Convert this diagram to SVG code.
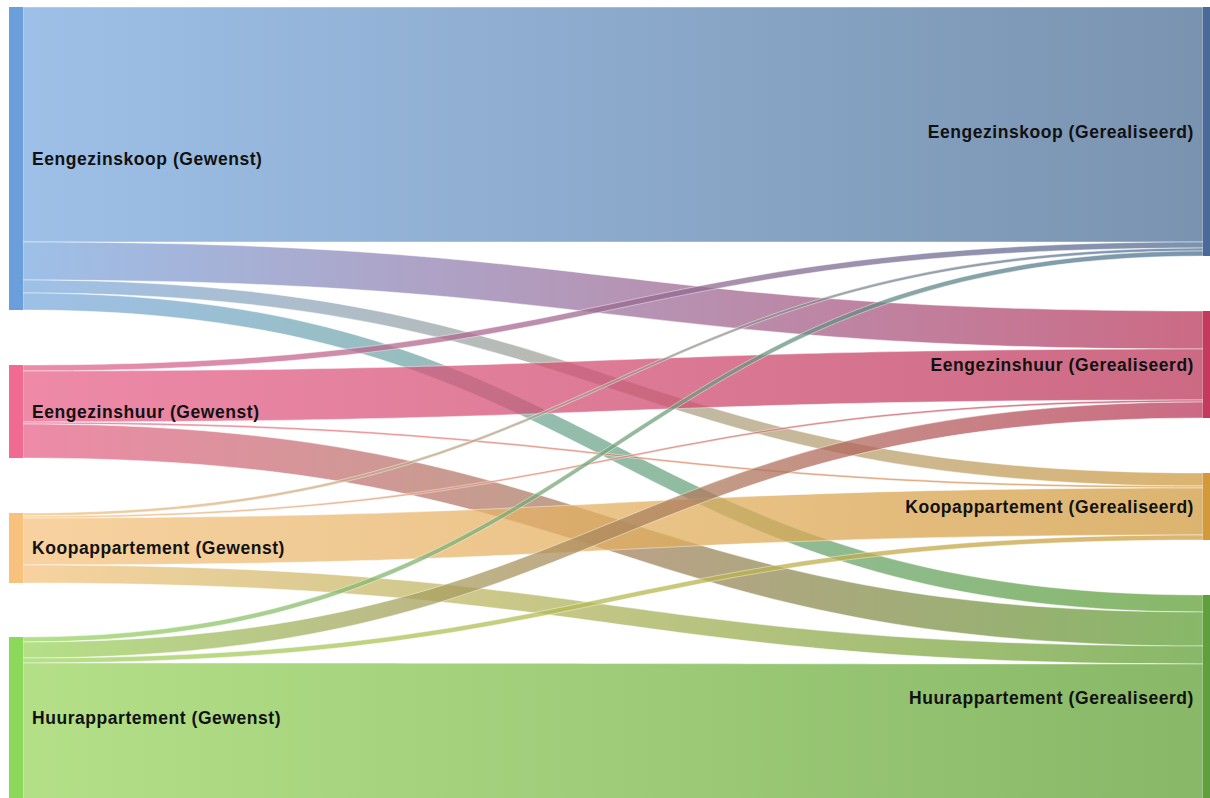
<svg xmlns="http://www.w3.org/2000/svg" width="1210" height="798" viewBox="0 0 1210 798">
<style>
.lnk{fill-opacity:0.75;stroke:#ffffff;stroke-opacity:0.55;stroke-width:0.8}
.lbl{font-family:"Liberation Sans",Arial,sans-serif;font-weight:bold;font-size:17.5px;letter-spacing:0.55px;fill:#111111}
.r{text-anchor:end}
</style>
<defs>
<linearGradient id="g-ek-ek" gradientUnits="userSpaceOnUse" x1="23" y1="0" x2="1203" y2="0"><stop offset="0" stop-color="#7dabe0"/><stop offset="1" stop-color="#4d6f95"/></linearGradient>
<linearGradient id="g-ek-eh" gradientUnits="userSpaceOnUse" x1="23" y1="0" x2="1203" y2="0"><stop offset="0" stop-color="#7dabe0"/><stop offset="1" stop-color="#bb385b"/></linearGradient>
<linearGradient id="g-ek-ka" gradientUnits="userSpaceOnUse" x1="23" y1="0" x2="1203" y2="0"><stop offset="0" stop-color="#7dabe0"/><stop offset="1" stop-color="#d09b40"/></linearGradient>
<linearGradient id="g-ek-ha" gradientUnits="userSpaceOnUse" x1="23" y1="0" x2="1203" y2="0"><stop offset="0" stop-color="#7dabe0"/><stop offset="1" stop-color="#60a035"/></linearGradient>
<linearGradient id="g-eh-ek" gradientUnits="userSpaceOnUse" x1="23" y1="0" x2="1203" y2="0"><stop offset="0" stop-color="#e8638b"/><stop offset="1" stop-color="#4d6f95"/></linearGradient>
<linearGradient id="g-eh-eh" gradientUnits="userSpaceOnUse" x1="23" y1="0" x2="1203" y2="0"><stop offset="0" stop-color="#e8638b"/><stop offset="1" stop-color="#bb385b"/></linearGradient>
<linearGradient id="g-eh-ka" gradientUnits="userSpaceOnUse" x1="23" y1="0" x2="1203" y2="0"><stop offset="0" stop-color="#e8638b"/><stop offset="1" stop-color="#d09b40"/></linearGradient>
<linearGradient id="g-eh-ha" gradientUnits="userSpaceOnUse" x1="23" y1="0" x2="1203" y2="0"><stop offset="0" stop-color="#e8638b"/><stop offset="1" stop-color="#60a035"/></linearGradient>
<linearGradient id="g-ka-ek" gradientUnits="userSpaceOnUse" x1="23" y1="0" x2="1203" y2="0"><stop offset="0" stop-color="#f5c380"/><stop offset="1" stop-color="#4d6f95"/></linearGradient>
<linearGradient id="g-ka-eh" gradientUnits="userSpaceOnUse" x1="23" y1="0" x2="1203" y2="0"><stop offset="0" stop-color="#f5c380"/><stop offset="1" stop-color="#bb385b"/></linearGradient>
<linearGradient id="g-ka-ka" gradientUnits="userSpaceOnUse" x1="23" y1="0" x2="1203" y2="0"><stop offset="0" stop-color="#f5c380"/><stop offset="1" stop-color="#d09b40"/></linearGradient>
<linearGradient id="g-ka-ha" gradientUnits="userSpaceOnUse" x1="23" y1="0" x2="1203" y2="0"><stop offset="0" stop-color="#f5c380"/><stop offset="1" stop-color="#60a035"/></linearGradient>
<linearGradient id="g-ha-ek" gradientUnits="userSpaceOnUse" x1="23" y1="0" x2="1203" y2="0"><stop offset="0" stop-color="#9bd560"/><stop offset="1" stop-color="#4d6f95"/></linearGradient>
<linearGradient id="g-ha-eh" gradientUnits="userSpaceOnUse" x1="23" y1="0" x2="1203" y2="0"><stop offset="0" stop-color="#9bd560"/><stop offset="1" stop-color="#bb385b"/></linearGradient>
<linearGradient id="g-ha-ka" gradientUnits="userSpaceOnUse" x1="23" y1="0" x2="1203" y2="0"><stop offset="0" stop-color="#9bd560"/><stop offset="1" stop-color="#d09b40"/></linearGradient>
<linearGradient id="g-ha-ha" gradientUnits="userSpaceOnUse" x1="23" y1="0" x2="1203" y2="0"><stop offset="0" stop-color="#9bd560"/><stop offset="1" stop-color="#60a035"/></linearGradient>
</defs>
<rect x="0" y="0" width="1210" height="798" fill="#ffffff"/>
<g id="links">
<path class="lnk" fill="url(#g-ek-ek)" d="M23,7 C613,7 613,7 1203,7 L1203,242 C613,242 613,242 23,242 Z"/>
<path class="lnk" fill="url(#g-ek-eh)" d="M23,242 C613,242 613,311 1203,311 L1203,349 C613,349 613,280 23,280 Z"/>
<path class="lnk" fill="url(#g-ek-ka)" d="M23,280 C613,280 613,473 1203,473 L1203,486 C613,486 613,293 23,293 Z"/>
<path class="lnk" fill="url(#g-ek-ha)" d="M23,293 C613,293 613,595 1203,595 L1203,612 C613,612 613,310 23,310 Z"/>
<path class="lnk" fill="url(#g-eh-ek)" d="M23,365 C613,365 613,242 1203,242 L1203,248 C613,248 613,371 23,371 Z"/>
<path class="lnk" fill="url(#g-eh-eh)" d="M23,371 C613,371 613,349 1203,349 L1203,400 C613,400 613,422 23,422 Z"/>
<path class="lnk" fill="url(#g-eh-ka)" d="M23,422 C613,422 613,486 1203,486 L1203,488 C613,488 613,424 23,424 Z"/>
<path class="lnk" fill="url(#g-eh-ha)" d="M23,424 C613,424 613,612 1203,612 L1203,646 C613,646 613,458 23,458 Z"/>
<path class="lnk" fill="url(#g-ka-ek)" d="M23,513 C613,513 613,248 1203,248 L1203,251 C613,251 613,516 23,516 Z"/>
<path class="lnk" fill="url(#g-ka-eh)" d="M23,516 C613,516 613,400 1203,400 L1203,402 C613,402 613,518 23,518 Z"/>
<path class="lnk" fill="url(#g-ka-ka)" d="M23,518 C613,518 613,488 1203,488 L1203,535 C613,535 613,565 23,565 Z"/>
<path class="lnk" fill="url(#g-ka-ha)" d="M23,565 C613,565 613,646 1203,646 L1203,664 C613,664 613,583 23,583 Z"/>
<path class="lnk" fill="url(#g-ha-ek)" d="M23,637 C613,637 613,251 1203,251 L1203,256 C613,256 613,642 23,642 Z"/>
<path class="lnk" fill="url(#g-ha-eh)" d="M23,642 C613,642 613,402 1203,402 L1203,418 C613,418 613,658 23,658 Z"/>
<path class="lnk" fill="url(#g-ha-ka)" d="M23,658 C613,658 613,535 1203,535 L1203,540 C613,540 613,663 23,663 Z"/>
<path class="lnk" fill="url(#g-ha-ha)" d="M23,663 C613,663 613,664 1203,664 L1203,800 C613,800 613,800 23,800 Z"/>
</g>
<g id="node-ek-gewenst"><rect x="9" y="7" width="14" height="303" fill="#6a9fdc"/><text class="lbl" x="32" y="159" dy="0.35em">Eengezinskoop (Gewenst)</text></g>
<g id="node-eh-gewenst"><rect x="9" y="365" width="14" height="93" fill="#f06a92"/><text class="lbl" x="32" y="411.5" dy="0.35em">Eengezinshuur (Gewenst)</text></g>
<g id="node-ka-gewenst"><rect x="9" y="513" width="14" height="70" fill="#f8c27e"/><text class="lbl" x="32" y="548" dy="0.35em">Koopappartement (Gewenst)</text></g>
<g id="node-ha-gewenst"><rect x="9" y="637" width="14" height="163" fill="#8cd85a"/><text class="lbl" x="32" y="718" dy="0.35em">Huurappartement (Gewenst)</text></g>
<g id="node-ek-gerealiseerd"><rect x="1203" y="7" width="14" height="249" fill="#4a6b9a"/><text class="lbl r" x="1194" y="132" dy="0.35em">Eengezinskoop (Gerealiseerd)</text></g>
<g id="node-eh-gerealiseerd"><rect x="1203" y="311" width="14" height="107" fill="#c43a5c"/><text class="lbl r" x="1194" y="365" dy="0.35em">Eengezinshuur (Gerealiseerd)</text></g>
<g id="node-ka-gerealiseerd"><rect x="1203" y="473" width="14" height="67" fill="#d49a3a"/><text class="lbl r" x="1194" y="507" dy="0.35em">Koopappartement (Gerealiseerd)</text></g>
<g id="node-ha-gerealiseerd"><rect x="1203" y="595" width="14" height="205" fill="#5fa03a"/><text class="lbl r" x="1194" y="698" dy="0.35em">Huurappartement (Gerealiseerd)</text></g>
</svg>
